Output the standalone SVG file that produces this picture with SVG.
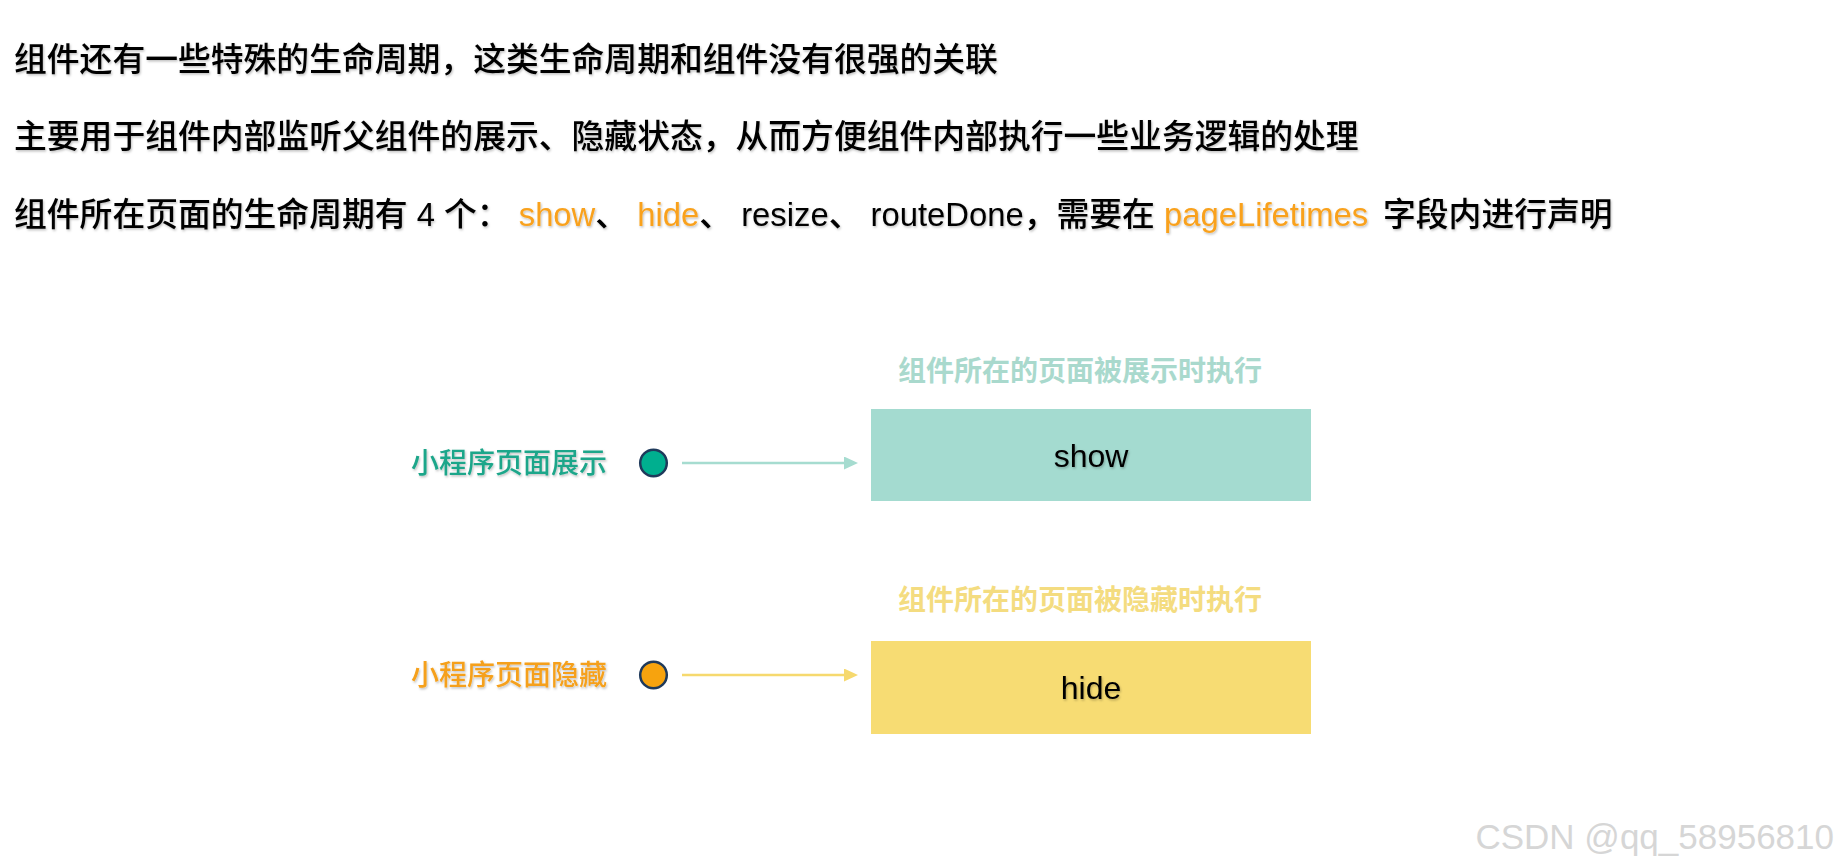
<svg xmlns="http://www.w3.org/2000/svg" width="1841" height="867" viewBox="0 0 1841 867">
  <defs>
    <filter id="shadow" x="-5%" y="-20%" width="110%" height="150%">
      <feDropShadow dx="1" dy="1.5" stdDeviation="0.8" flood-color="#000000" flood-opacity="0.25"/>
    </filter>
    <marker id="arrowTeal" markerUnits="userSpaceOnUse" markerWidth="14" markerHeight="14" refX="0" refY="6.5" orient="auto">
      <path d="M0,0 L14,6.5 L0,13 z" fill="#A6DCD0"/>
    </marker>
    <marker id="arrowYellow" markerUnits="userSpaceOnUse" markerWidth="14" markerHeight="14" refX="0" refY="6.5" orient="auto">
      <path d="M0,0 L14,6.5 L0,13 z" fill="#F6D96E"/>
    </marker>
  </defs>
  <style>
    .txt { font-family: 'Liberation Sans', 'Noto Sans CJK SC', sans-serif; white-space: pre; }
    .intro { font-size: 32.8px; fill: #000000; font-weight: 500; }
    .hl { fill: #F9A11B; }
    .label { font-size: 28px; font-weight: 500; }
    .caption { font-size: 28px; font-weight: bold; }
    .box-text { font-size: 32px; fill: #000000; text-anchor: middle; }
    .dot { stroke: #1F3A5B; stroke-width: 2.5; }
    .conn { stroke-width: 2.5; fill: none; }
  </style>
  <rect width="1841" height="867" fill="#FFFFFF"/>

  <g id="intro" class="txt intro" filter="url(#shadow)">
    <text x="14" y="71">组件还有一些特殊的生命周期，这类生命周期和组件没有很强的关联</text>
    <text x="14" y="148">主要用于组件内部监听父组件的展示、隐藏状态，从而方便组件内部执行一些业务逻辑的处理</text>
    <text x="14" y="226">组件所在页面的生命周期有 4 个： <tspan class="hl">show</tspan>、 <tspan class="hl">hide</tspan>、 resize、 routeDone，需要在 <tspan class="hl">pageLifetimes</tspan><tspan x="1383">字段内进行声明</tspan></text>
  </g>

  <g id="show-caption">
    <text class="txt caption" x="898" y="381" fill="#A9D9CD">组件所在的页面被展示时执行</text>
  </g>
  <g id="show-source">
    <text class="txt label" x="411" y="473" fill="#1FA68A" filter="url(#shadow)">小程序页面展示</text>
    <circle class="dot" cx="653.5" cy="463" r="13.3" fill="#00AF8F"/>
  </g>
  <g id="show-node">
    <rect x="871" y="409" width="440" height="92" fill="#A4DBD0"/>
    <text class="txt box-text" x="1091" y="467" filter="url(#shadow)">show</text>
  </g>

  <g id="hide-caption">
    <text class="txt caption" x="898" y="610" fill="#F4DC80">组件所在的页面被隐藏时执行</text>
  </g>
  <g id="hide-source">
    <text class="txt label" x="411" y="685" fill="#F5A01A" filter="url(#shadow)">小程序页面隐藏</text>
    <circle class="dot" cx="653.5" cy="675" r="13.3" fill="#F7A30E"/>
  </g>
  <g id="hide-node">
    <rect x="871" y="641" width="440" height="93" fill="#F7DC73"/>
    <text class="txt box-text" x="1091" y="699" filter="url(#shadow)">hide</text>
  </g>

  <g id="connectors">
    <line class="conn" x1="682" y1="463" x2="844" y2="463" stroke="#A6DCD0" marker-end="url(#arrowTeal)"/>
    <line class="conn" x1="682" y1="675" x2="844" y2="675" stroke="#F6D96E" marker-end="url(#arrowYellow)"/>
  </g>

  <g id="watermark">
    <text class="txt" x="1834" y="849" font-size="35" fill="#D6D6D6" text-anchor="end">CSDN @qq_58956810</text>
  </g>
</svg>
